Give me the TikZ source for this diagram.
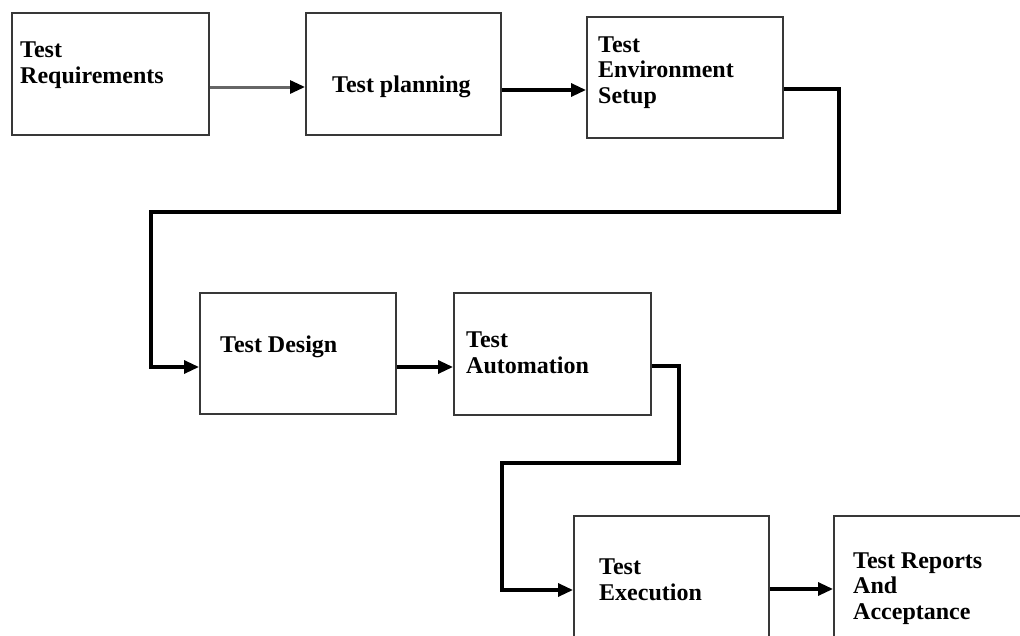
\documentclass[tikz,border=0pt]{standalone}
\usepackage{fontspec}
\setmainfont{Liberation Serif}
\usetikzlibrary{arrows.meta,calc}
\begin{document}
\begin{tikzpicture}[x=1pt,y=-1pt,
  stagebox/.style={draw=black!78,line width=1.8pt,rectangle,inner sep=0pt,anchor=north west},
  stagetext/.style={inner sep=0pt,anchor=base west,align=left,
    font=\fontsize{24}{25.5}\selectfont\bfseries},
  flow/.style={line width=3.2pt,black,-{Triangle[length=15pt,width=13pt]}},
  thinflow/.style={line width=3pt,black!60,-{Triangle[length=15pt,width=13pt,color=black]}}]
  \clip (0,0) rectangle (1020,635);
  \fill[white] (0,0) rectangle (1020,635);

  % stage boxes
  \node[stagebox,minimum width=197pt,minimum height=122pt] (b1) at (11,12) {};
  \node[stagebox,minimum width=195pt,minimum height=122pt] (b2) at (305,12) {};
  \node[stagebox,minimum width=196pt,minimum height=121pt] (b3) at (586,16) {};
  \node[stagebox,minimum width=196pt,minimum height=121pt] (b4) at (199,292) {};
  \node[stagebox,minimum width=197pt,minimum height=122pt] (b5) at (453,292) {};
  \node[stagebox,minimum width=195pt,minimum height=150pt] (b6) at (573,515) {};
  \node[stagebox,minimum width=200pt,minimum height=150pt] (b7) at (833,515) {};

  % stage labels (anchored at the baseline of their last line)
  \node[stagetext] (t1) at (20,83) {Test\\Requirements};
  \node[stagetext] (t2) at (332,92) {Test planning};
  \node[stagetext] (t3) at (598,103) {Test\\Environment\\Setup};
  \node[stagetext] (t4) at (220,352) {Test Design};
  \node[stagetext] (t5) at (466,373) {Test\\Automation};
  \node[stagetext] (t6) at (599,600) {Test\\Execution};
  \node[stagetext] (t7) at (853,619) {Test Reports\\And\\Acceptance};

  % connector start points on the box edges
  \coordinate (o1) at ($(b1.north east)+(0,75)$);
  \coordinate (o2) at ($(b2.north east)+(0,78)$);
  \coordinate (o3) at ($(b3.north east)+(0,73)$);
  \coordinate (o4) at ($(b4.north east)+(0,75)$);
  \coordinate (o5) at ($(b5.north east)+(0,74)$);
  \coordinate (o6) at ($(b6.north east)+(0,74)$);

  % bends of the long connectors
  \coordinate (r1) at (839,212);
  \coordinate (l1) at (151,367);
  \coordinate (r2) at (679,463);
  \coordinate (l2) at (502,590);

  % connectors
  \draw[thinflow] (o1) -- (o1 -| b2.west);
  \draw[flow] (o2) -- (o2 -| b3.west);
  \draw[flow,line join=miter] (o3) -| (r1) -| (l1) -- (l1 -| b4.west);
  \draw[flow] (o4) -- (o4 -| b5.west);
  \draw[flow,line join=miter] (o5) -| (r2) -| (l2) -- (l2 -| b6.west);
  \draw[flow] (o6) -- (o6 -| b7.west);
\end{tikzpicture}
\end{document}
